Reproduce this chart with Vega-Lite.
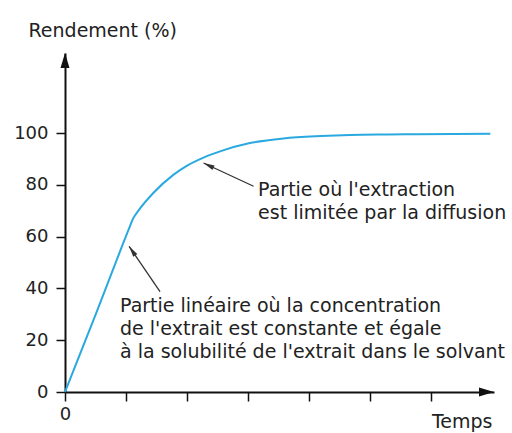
{
  "$schema": "https://vega.github.io/schema/vega-lite/v6.json",
  "width": 429,
  "height": 339,
  "autosize": "none",
  "padding": {"left": 65, "top": 53, "right": 18, "bottom": 41},
  "background": "white",
  "config": {"view": {"stroke": null}, "font": "DejaVu Sans"},
  "datasets": {
    "curve": [
      {"t": 0, "r": 0},
      {"t": 0.5, "r": 29.8},
      {"t": 1.05, "r": 63.2},
      {"t": 1.115, "r": 67.0},
      {"t": 1.2, "r": 70.0},
      {"t": 1.447, "r": 76.9},
      {"t": 1.78, "r": 84.0},
      {"t": 1.995, "r": 87.4},
      {"t": 2.27, "r": 90.6},
      {"t": 2.54, "r": 93.0},
      {"t": 3.03, "r": 96.2},
      {"t": 3.58, "r": 98.0},
      {"t": 4.2, "r": 98.9},
      {"t": 4.67, "r": 99.3},
      {"t": 5.3, "r": 99.5},
      {"t": 5.77, "r": 99.6},
      {"t": 6.97, "r": 99.8}
    ],
    "axisArrows": [
      {"t": 0, "r": 131, "axis": "y"},
      {"t": 7.03, "r": 0, "axis": "x"}
    ],
    "leaders": [
      {"id": "lin", "t": 1.557, "r": 38.8, "t2": 1.05, "r2": 56.3},
      {"id": "diff", "t": 3.09, "r": 79.5, "t2": 2.27, "r2": 88.5}
    ],
    "notes": [
      {"t": 3.164, "r": 75.7, "label": "Partie où l'extraction\nest limitée par la diffusion"},
      {"t": 0.902, "r": 31.0, "label": "Partie linéaire où la concentration\nde l'extrait est constante et égale\nà la solubilité de l'extrait dans le solvant"}
    ]
  },
  "layer": [
    {
      "data": {"name": "curve"},
      "mark": {"type": "line", "interpolate": "monotone", "color": "#29a9e0", "strokeWidth": 2, "clip": false},
      "encoding": {
        "x": {
          "field": "t", "type": "quantitative",
          "scale": {"domain": [0, 7.03], "nice": false, "zero": false},
          "axis": {
            "values": [0, 1, 2, 3, 4, 5, 6],
            "labelExpr": "datum.value === 0 ? '0' : ''",
            "grid": false, "labelFlush": false, "labelOverlap": false,
            "domainColor": "#111", "domainWidth": 2,
            "tickColor": "#111", "tickWidth": 1.5, "tickSize": 9,
            "labelFontSize": 18, "labelColor": "#222", "labelPadding": 4,
            "title": "Temps", "titleFontSize": 19, "titleFontWeight": "normal",
            "titleColor": "#222", "titleAlign": "right", "titleX": 427, "titleY": 35,
            "titleBaseline": "alphabetic", "titleAnchor": null
          }
        },
        "y": {
          "field": "r", "type": "quantitative",
          "scale": {"domain": [0, 131], "nice": false, "zero": false},
          "axis": {
            "values": [0, 20, 40, 60, 80, 100],
            "grid": false, "labelFlush": false, "labelOverlap": false,
            "domainColor": "#111", "domainWidth": 2,
            "tickColor": "#111", "tickWidth": 1.5, "tickSize": 9,
            "labelFontSize": 18, "labelColor": "#222", "labelPadding": 8,
            "title": "Rendement (%)", "titleFontSize": 19, "titleFontWeight": "normal",
            "titleColor": "#222", "titleAngle": 0, "titleAlign": "left",
            "titleX": -37, "titleY": -16.5, "titleBaseline": "alphabetic", "titleAnchor": null
          }
        }
      }
    },
    {
      "data": {"name": "axisArrows"},
      "transform": [{"filter": "datum.axis === 'y'"}],
      "mark": {"type": "point", "shape": "M0,0L0.6,2L-0.6,2Z", "size": 225, "filled": true, "color": "#111", "opacity": 1, "angle": 0, "clip": false},
      "encoding": {
        "x": {"field": "t", "type": "quantitative", "scale": {"domain": [0, 7.03], "nice": false, "zero": false}},
        "y": {"field": "r", "type": "quantitative", "scale": {"domain": [0, 131], "nice": false, "zero": false}}
      }
    },
    {
      "data": {"name": "axisArrows"},
      "transform": [{"filter": "datum.axis === 'x'"}],
      "mark": {"type": "point", "shape": "M0,0L0.6,2L-0.6,2Z", "size": 225, "filled": true, "color": "#111", "opacity": 1, "angle": 90, "clip": false},
      "encoding": {
        "x": {"field": "t", "type": "quantitative", "scale": {"domain": [0, 7.03], "nice": false, "zero": false}},
        "y": {"field": "r", "type": "quantitative", "scale": {"domain": [0, 131], "nice": false, "zero": false}}
      }
    },
    {
      "data": {"name": "leaders"},
      "mark": {"type": "rule", "color": "#333", "strokeWidth": 1.3},
      "encoding": {
        "x": {"field": "t", "type": "quantitative", "scale": {"domain": [0, 7.03], "nice": false, "zero": false}},
        "y": {"field": "r", "type": "quantitative", "scale": {"domain": [0, 131], "nice": false, "zero": false}},
        "x2": {"field": "t2"},
        "y2": {"field": "r2"}
      }
    },
    {
      "data": {"name": "leaders"},
      "transform": [{"filter": "datum.id === 'lin'"}],
      "mark": {"type": "point", "shape": "M0,0L0.45,2L-0.45,2Z", "size": 121, "filled": true, "color": "#333", "opacity": 1, "angle": -34.3},
      "encoding": {
        "x": {"field": "t2", "type": "quantitative", "scale": {"domain": [0, 7.03], "nice": false, "zero": false}},
        "y": {"field": "r2", "type": "quantitative", "scale": {"domain": [0, 131], "nice": false, "zero": false}}
      }
    },
    {
      "data": {"name": "leaders"},
      "transform": [{"filter": "datum.id === 'diff'"}],
      "mark": {"type": "point", "shape": "M0,0L0.45,2L-0.45,2Z", "size": 121, "filled": true, "color": "#333", "opacity": 1, "angle": -64.9},
      "encoding": {
        "x": {"field": "t2", "type": "quantitative", "scale": {"domain": [0, 7.03], "nice": false, "zero": false}},
        "y": {"field": "r2", "type": "quantitative", "scale": {"domain": [0, 131], "nice": false, "zero": false}}
      }
    },
    {
      "data": {"name": "notes"},
      "mark": {"type": "text", "align": "left", "baseline": "alphabetic", "fontSize": 19, "lineBreak": "\n", "lineHeight": 23, "color": "#222", "font": "DejaVu Sans", "clip": false},
      "encoding": {
        "x": {"field": "t", "type": "quantitative", "scale": {"domain": [0, 7.03], "nice": false, "zero": false}},
        "y": {"field": "r", "type": "quantitative", "scale": {"domain": [0, 131], "nice": false, "zero": false}},
        "text": {"field": "label"}
      }
    }
  ]
}
